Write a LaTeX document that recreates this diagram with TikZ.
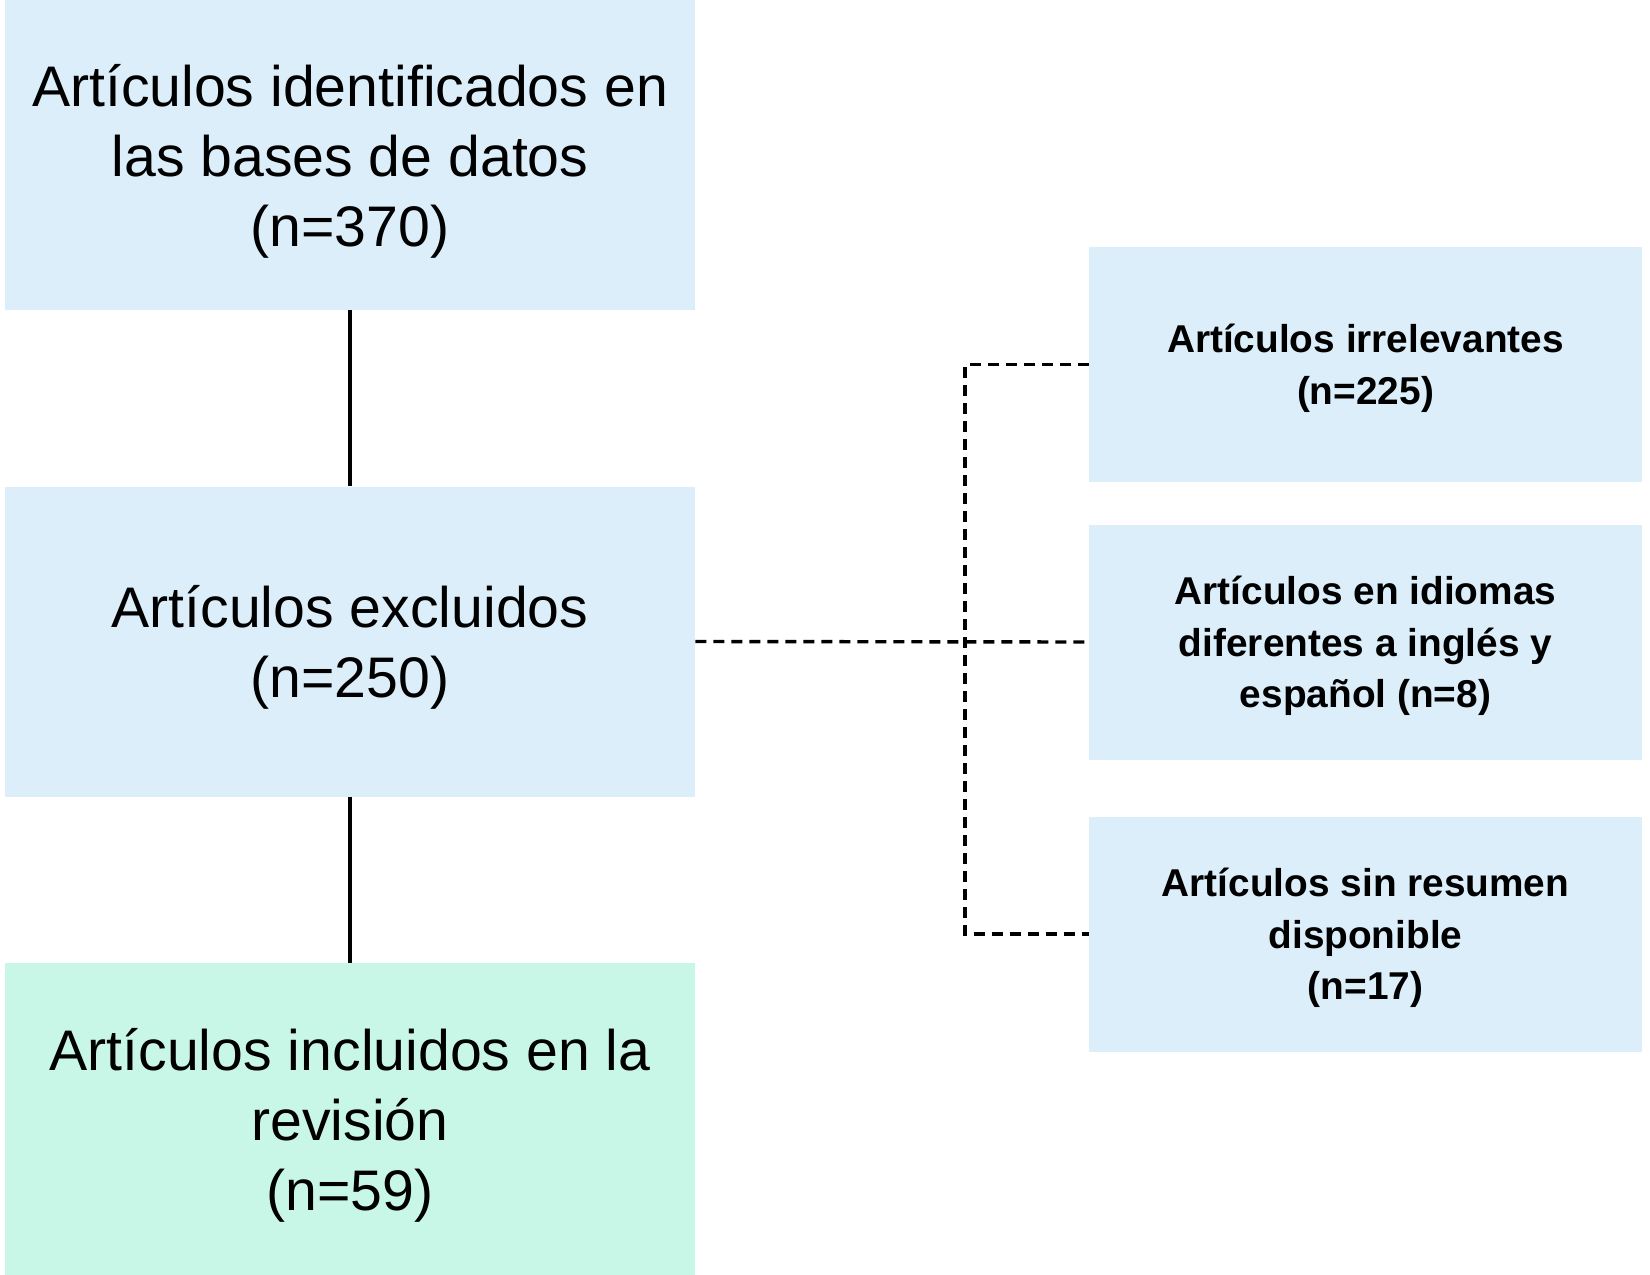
\documentclass[tikz,border=0pt]{standalone}
\usepackage{fontspec}
\setmainfont{Liberation Sans}
\usetikzlibrary{positioning}
\definecolor{boxblue}{RGB}{219,238,250}
\definecolor{boxmint}{RGB}{200,247,232}
\tikzset{
  mainbox/.style   = {fill=boxblue, draw=none, inner sep=0pt, align=center,
                      minimum width=345pt, minimum height=155pt, text depth=-1pt,
                      font=\fontsize{28.6}{35}\selectfont},
  sidebox/.style   = {fill=boxblue, draw=none, inner sep=0pt, align=center,
                      minimum width=276.5pt, minimum height=117.5pt, text depth=-1pt,
                      font=\bfseries\fontsize{19.4}{25.8}\selectfont},
  link/.style      = {line width=1.7pt},
  dashlink/.style  = {line width=1.7pt, dash pattern=on 5.5pt off 3.5pt},
}

\begin{document}
\begin{tikzpicture}[x=0.5pt,y=-0.5pt]
  \useasboundingbox (0,0) rectangle (1650,1275);

  % main column
  \node[mainbox] (ident) at (350,155) {Artículos identificados en\\las bases de datos\\(n=370)};
  \node[mainbox] (excl) at (350,641.5) {Artículos excluidos\\(n=250)};
  \node[mainbox, fill=boxmint, minimum height=156pt] (incl) at (350,1119)
       {Artículos incluidos en la\\revisión\\(n=59)};

  % reasons for exclusion
  \node[sidebox] (irrel) at (1365.5,364.5) {Artículos irrelevantes\\(n=225)};
  \node[sidebox] (lang) at (1365.5,642) {Artículos en idiomas\\diferentes a inglés y\\español (n=8)};
  \node[sidebox] (noabs) at (1365.5,934) {Artículos sin resumen\\disponible\\(n=17)};

  % flow
  \draw[link] (ident) -- (excl);
  \draw[link] (excl) -- (incl);

  % exclusion branch
  \coordinate (split) at (965,642);
  \draw[dashlink] (excl.east) -- (lang.west);
  \draw[dashlink] (irrel.west) -| (split) |- (noabs.west);
\end{tikzpicture}
\end{document}
